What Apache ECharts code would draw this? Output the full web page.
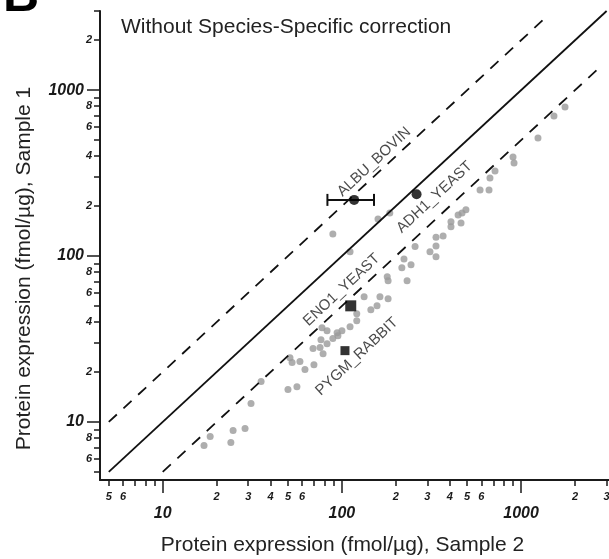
<!DOCTYPE html>
<html><head><meta charset="utf-8">
<script src="https://cdn.jsdelivr.net/npm/echarts@6/dist/echarts.min.js"></script>
<style>html,body{margin:0;padding:0;background:#fff}#c{width:609px;height:559px}</style>
</head><body><div id="c"></div>
<script>
// ---- data (fmol/µg) ----
const grayX = [1758,1525,1242,901,913,715,670,590,662,492,468,445,462,406,406,367,335,335,310,335,256,243,216,222,231,185,159,89,111,179,181,133,163,181,145,157,121,121,111,100,94,82.6,77.4,89,82.6,76.4,69.0,75.5,78.5,95,51.3,52.7,58.3,62.2,69.8,50.0,56.1,35.4,31.1,24.7,28.8,18.4,17.0,24.0];
const grayY = [791,698,514,395,364,326,295,250,250,190,182,177,158,161,150,132,130,115,106,99,114,88.5,85,96,71,182,167,136,106,75,71,56.8,56.8,55.2,47.4,50.1,44.9,40.7,37.5,35.5,34.5,35.5,37.0,31.8,29.6,31.3,27.7,28.1,25.8,33.1,24.4,22.8,23.1,20.7,22.1,15.7,16.3,17.5,12.9,8.87,9.12,8.17,7.21,7.52];

const hiNames = ['ALBU_BOVIN','ADH1_YEAST','ENO1_YEAST','PYGM_RABBIT'];
const hiX = [117, 261, 112, 104];
const hiY = [218, 236, 50.1, 26.9];
const albuErrLow = 83;
const albuErrHigh = 151;

const identityLine = [[5,5],[3000,3000]];
const upperLine = [[5,10],[1400,2800]];
const lowerLine = [[10,5],[2800,1400]];

const xMinorTicks = [5,6,7,8,9,20,30,40,50,60,70,80,90,200,300,400,500,600,700,800,900,2000,3000];
const xMinorLabels = [5,6,20,30,40,50,60,200,300,400,500,600,2000,3000];
const yMinorTicks = [5,6,7,8,9,20,30,40,50,60,70,80,90,200,300,400,500,600,700,800,900,2000,3000];
const yMinorLabels = [6,8,20,40,60,80,200,400,600,800,2000];
const majorTicks = [10,100,1000];

// ---- styles ----
const FONT = "'Liberation Sans', Arial, Helvetica, sans-serif";
const INK = '#1a1a1a';
const hiSymbol = ['circle','circle','rect','rect'];
const hiSize = [10,10,11,9];
const hiLabelShift = [[20,-38],[18,3],[-9,-16],[12,6]]; // screen offset of label centre
const ANGLE = 43;
function localOffset(d){
  const t = ANGLE*Math.PI/180, c=Math.cos(t), s=Math.sin(t);
  return [d[0]*c - d[1]*s, d[0]*s + d[1]*c];
}
const lead = v => String(Math.round(v / Math.pow(10, Math.floor(Math.log10(v)+1e-9))));

const xMin = Math.pow(10,0.65), xMax = Math.pow(10,3.4904);
const yMin = Math.pow(10,0.65), yMax = 3000;

const minorLabel = {fontSize:11, fontWeight:'bold', fontStyle:'italic', color:INK, fontFamily:FONT};
const majorLabel = {fontSize:16, fontWeight:'bold', fontStyle:'italic', color:INK, fontFamily:FONT};
const tickStyle = {color:INK, width:1.5};

function axisPair(isX){
  const base = {type:'log', logBase:10, min: isX?xMin:yMin, max: isX?xMax:yMax,
    splitLine:{show:false}, minorTick:{show:false}, minorSplitLine:{show:false}};
  const minorT = isX ? xMinorTicks : yMinorTicks;
  const minorL = isX ? xMinorLabels : yMinorLabels;
  return [
    Object.assign({}, base, {
      position: isX?'bottom':'left',
      axisLine:{show:true, onZero:false, lineStyle:{color:INK, width:2}},
      axisTick:{show:true, length:6, customValues:minorT, lineStyle:tickStyle},
      axisLabel:Object.assign({customValues:minorL, margin: isX?11:8, formatter:lead, hideOverlap:false}, minorLabel),
      name: isX ? 'Protein expression (fmol/µg), Sample 2' : 'Protein expression (fmol/µg), Sample 1',
      nameLocation:'middle', nameGap: isX?55:65,
      nameTextStyle: Object.assign({fontSize:21, color:'#222', fontFamily:FONT}, isX?{padding:[0,24,0,0]}:{padding:[0,46,0,0]})
    }),
    Object.assign({}, base, {
      position: isX?'bottom':'left', offset:0,
      axisLine:{show:false},
      axisTick:{show:true, length:13, customValues:majorTicks, lineStyle:tickStyle},
      axisLabel:Object.assign({customValues:majorTicks, margin: isX?26:16, formatter:v=>String(Math.round(v)), hideOverlap:false}, majorLabel)
    })
  ];
}

const lineSeries = (data, dashed) => ({
  type:'line', data, xAxisIndex:0, yAxisIndex:0, showSymbol:false, symbol:'none', silent:true,
  lineStyle:{color:'#111', width:1.8, type: dashed ? [11,9] : 'solid'}, z:3
});

const chart = echarts.init(document.getElementById('c'), null, {renderer:'canvas'});
chart.setOption({
  animation:false,
  backgroundColor:'#fff',
  grid:{left:100, right:0, top:11, bottom:79, containLabel:false, outerBoundsMode:'none'},
  title:{text:'Without Species-Specific correction', left:116, top:12,
    textStyle:{fontSize:21, fontWeight:'normal', color:'#222', fontFamily:FONT}},
  graphic:[{type:'text', left:3, top:-28, style:{text:'B', font:"bold 50px 'Liberation Sans', Arial", fill:'#000'}}],
  xAxis: axisPair(true),
  yAxis: axisPair(false),
  series:[
    {type:'scatter', data: grayX.map((x,i)=>[x, grayY[i]]), symbolSize:7, itemStyle:{color:'#9a9a9a'}, z:2},
    lineSeries(identityLine,false),
    lineSeries(upperLine,true),
    lineSeries(lowerLine,true),
    {type:'custom', xAxisIndex:0, yAxisIndex:0, z:5,
      data:[[albuErrLow, albuErrHigh, hiY[0]]],
      encode:{x:[0,1], y:2},
      renderItem:(params, api)=>{
        const a = api.coord([api.value(0), api.value(2)]);
        const b = api.coord([api.value(1), api.value(2)]);
        const st = {stroke:'#111', lineWidth:2};
        const cap = 6;
        return {type:'group', children:[
          {type:'line', shape:{x1:a[0],y1:a[1],x2:b[0],y2:b[1]}, style:st},
          {type:'line', shape:{x1:a[0],y1:a[1]-cap,x2:a[0],y2:a[1]+cap}, style:st},
          {type:'line', shape:{x1:b[0],y1:b[1]-cap,x2:b[0],y2:b[1]+cap}, style:st}
        ]};
      }},
    {type:'scatter', z:6, itemStyle:{color:'#000'},
      data: hiNames.map((n,i)=>({
        name:n, value:[hiX[i], hiY[i]], symbol:hiSymbol[i], symbolSize:hiSize[i],
        label:{show:true, formatter:n, position:'inside', rotate:ANGLE, offset:localOffset(hiLabelShift[i]),
          align:'center', verticalAlign:'middle', fontSize:15, color:'#1a1a1a', fontFamily:FONT}
      }))}
  ]
});
</script></body></html>
